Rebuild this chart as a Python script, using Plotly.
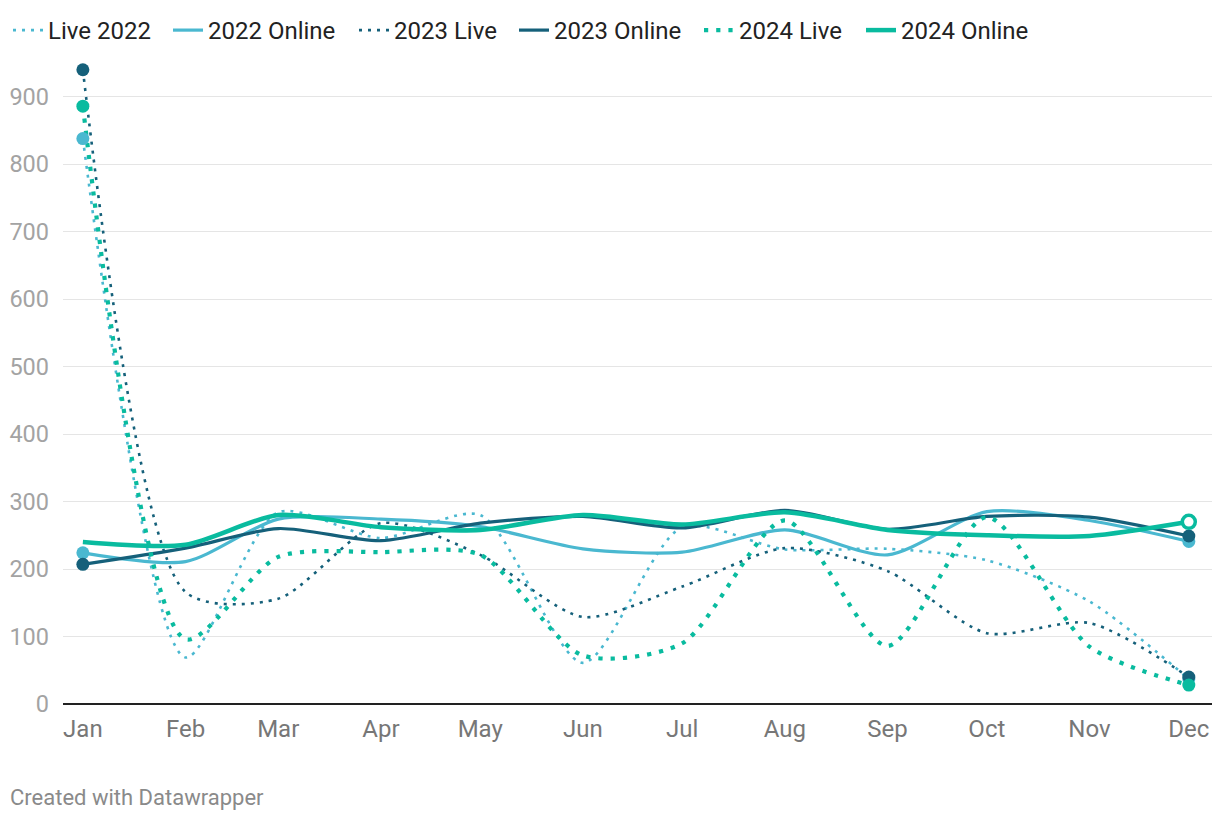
import plotly.graph_objects as go

months = ["2023-01-01", "2023-02-01", "2023-03-01", "2023-04-01", "2023-05-01", "2023-06-01",
          "2023-07-01", "2023-08-01", "2023-09-01", "2023-10-01", "2023-11-01", "2023-12-01"]

live_2022 = [838, 69, 284, 246, 280, 61, 262, 229, 230, 213, 152, 37]
online_2022 = [224, 211, 274, 274, 263, 230, 225, 258, 221, 285, 272, 241]
live_2023 = [940, 166, 156, 268, 221, 129, 174, 231, 197, 105, 120, 40]
online_2023 = [207, 231, 260, 242, 268, 278, 261, 287, 259, 278, 277, 249]
live_2024 = [886, 96, 218, 225, 221, 72, 90, 272, 86, 277, 85, 28]
online_2024 = [240, 236, 280, 262, 258, 280, 266, 284, 258, 250, 249, 270]

y_ticks = [0, 100, 200, 300, 400, 500, 600, 700, 800, 900]

LIGHT = "#4ab8d0"
DARK = "#15607a"
TEAL = "#09bb9f"

series = [
    ("Live 2022", live_2022, LIGHT, 2.6, "3px,6px", 115),
    ("2022 Online", online_2022, LIGHT, 3.2, "solid", 141),
    ("2023 Live", live_2023, DARK, 2.6, "3px,6px", 115),
    ("2023 Online", online_2023, DARK, 3.2, "solid", 140),
    ("2024 Live", live_2024, TEAL, 4.2, "4.2px,8px", 117),
    ("2024 Online", online_2024, TEAL, 4.5, "solid", 140),
]

fig = go.Figure()
for name, vals, color, w, dash, lw in series:
    fig.add_trace(go.Scatter(
        x=months, y=vals, name=name, mode="lines",
        line=dict(color=color, width=w, dash=dash, shape="spline", smoothing=0.75),
        legendwidth=lw,
        hoverinfo="skip",
    ))

# end-point markers
for name, vals, color, w, dash, lw in series:
    if name == "2024 Online":
        fig.add_trace(go.Scatter(
            x=[months[-1]], y=[vals[-1]], mode="markers", showlegend=False,
            marker=dict(size=13, color="white", line=dict(color=color, width=3.5)),
            hoverinfo="skip",
        ))
    else:
        fig.add_trace(go.Scatter(
            x=[months[0], months[-1]], y=[vals[0], vals[-1]], mode="markers", showlegend=False,
            marker=dict(size=13, color=color),
            hoverinfo="skip",
        ))

fig.update_layout(
    width=1220, height=820,
    margin=dict(l=63, r=8, t=63, b=116, autoexpand=False),
    paper_bgcolor="white", plot_bgcolor="white",
    font=dict(family="Roboto", size=22, color="#222"),
    showlegend=True,
    legend=dict(
        orientation="h", x=8 / 1220, y=1 - 8 / 820, xref="container", yref="container",
        xanchor="left", yanchor="top",
        font=dict(family="Roboto", size=24, color="#222"),
        itemwidth=30, tracegroupgap=0, traceorder="normal",
        bgcolor="rgba(0,0,0,0)",
    ),
    xaxis=dict(
        type="date",
        range=["2022-12-26", "2023-12-08"],
        tickvals=months, tickformat="%b",
        showgrid=False, showline=False, zeroline=False,
        ticks="", tickfont=dict(family="Roboto", size=24, color="#777"),
        ticklabelstandoff=8,
        fixedrange=True,
    ),
    yaxis=dict(
        range=[0, 950],
        tickvals=y_ticks,
        showgrid=True, gridcolor="#e5e5e5", gridwidth=1,
        zeroline=True, zerolinecolor="#222", zerolinewidth=2,
        showline=False, ticks="",
        tickfont=dict(family="Roboto", size=23.5, color="#a3a3a3"),
        ticklabelstandoff=13,
        fixedrange=True,
    ),
    annotations=[dict(
        text="Created with Datawrapper", xref="paper", yref="paper",
        x=0, y=0, xanchor="left", yanchor="middle",
        xshift=-55, yshift=-93, showarrow=False,
        font=dict(family="Roboto", size=22, color="#8a8a8a"),
    )],
)

fig.write_html("out.html", config={"displayModeBar": False},
               post_script="document.body.style.margin='0';")
